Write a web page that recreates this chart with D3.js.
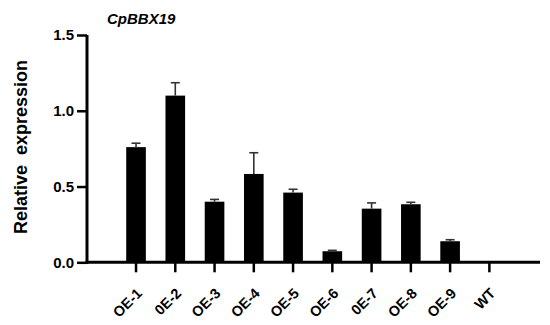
<!DOCTYPE html>
<html><head><meta charset="utf-8">
<script src="https://cdn.jsdelivr.net/npm/d3@7/dist/d3.min.js"></script>
<style>body{margin:0;background:#fff}svg{display:block}text{font-family:Arial,"Liberation Sans",sans-serif}</style>
</head><body>
<svg id="c" width="550" height="325"></svg>
<script>
const categories = ["OE-1","0E-2","OE-3","OE-4","OE-5","OE-6","0E-7","OE-8","OE-9","WT"];
const values = [0.76,1.10,0.40,0.583,0.46,0.073,0.354,0.383,0.139,0];
const errors = [0.026,0.085,0.015,0.14,0.022,0.006,0.038,0.013,0.010,0];
const yTicks = [0,0.5,1.0,1.5];
const title = "CpBBX19";
const yLabel = "Relative  expression";

const svg = d3.select("#c");
const axisX0 = 87, axisX1 = 540;
const y = d3.scaleLinear().domain([0,1.5]).range([262.3,35]);
const x = d3.scaleBand().domain(categories).range([116.4,509]).paddingInner(0.5).paddingOuter(0.25);

// bars
svg.selectAll("rect.bar").data(categories).enter().append("rect")
  .attr("x", d=>x(d)).attr("width", x.bandwidth())
  .attr("y", (d,i)=>y(values[i])).attr("height",(d,i)=>y(0)-y(values[i]))
  .attr("fill","#000");

// error bars
const eb = svg.selectAll("g.eb").data(categories.filter((d,i)=>errors[i]>0)).enter().append("g");
eb.append("line")
  .attr("x1", d=>x(d)+x.bandwidth()/2).attr("x2", d=>x(d)+x.bandwidth()/2)
  .attr("y1", d=>y(values[categories.indexOf(d)]))
  .attr("y2", d=>y(values[categories.indexOf(d)]+errors[categories.indexOf(d)]))
  .attr("stroke","#333").attr("stroke-width",1.6);
eb.append("line")
  .attr("x1", d=>x(d)+x.bandwidth()/2-4.5).attr("x2", d=>x(d)+x.bandwidth()/2+4.5)
  .attr("y1", d=>y(values[categories.indexOf(d)]+errors[categories.indexOf(d)]))
  .attr("y2", d=>y(values[categories.indexOf(d)]+errors[categories.indexOf(d)]))
  .attr("stroke","#333").attr("stroke-width",1.6);

// y axis
const yAxis = d3.axisLeft(y).tickValues(yTicks).tickFormat(d3.format(".1f")).tickSize(10).tickPadding(3);
const gy = svg.append("g").attr("transform",`translate(${axisX0},0)`).call(yAxis);
gy.select(".domain").attr("d",`M0,${y(1.5)}V${y(0)+1.5}`).attr("stroke","#000").attr("stroke-width",3);
gy.selectAll(".tick line").attr("stroke","#000").attr("stroke-width",2.5);
gy.selectAll(".tick text").attr("font-size",15).attr("font-weight","bold").attr("fill","#000");

// x axis
const xAxis = d3.axisBottom(x).tickSize(10).tickPadding(2);
const gx = svg.append("g").attr("transform",`translate(0,${y(0)})`).call(xAxis);
gx.select(".domain").attr("d",`M${axisX0-1.5},0H${axisX1}`).attr("stroke","#000").attr("stroke-width",3);
gx.selectAll(".tick line").attr("stroke","#000").attr("stroke-width",2.5);
gx.selectAll(".tick text").attr("font-size",14.5).attr("font-weight","bold").attr("fill","#000")
  .attr("text-anchor","end").attr("dy","0").attr("y",0)
  .attr("transform","translate(7,32) rotate(-45)");

// title
svg.append("text").attr("x",107).attr("y",24).attr("font-size",15).attr("font-weight","bold")
  .attr("font-style","italic").text(title);

// y label
svg.append("text").attr("transform","translate(27,147) rotate(-90)").attr("text-anchor","middle")
  .attr("xml:space","preserve")
  .attr("font-size",18).attr("font-weight","bold").style("white-space","pre").text(yLabel);
</script>
</body></html>
